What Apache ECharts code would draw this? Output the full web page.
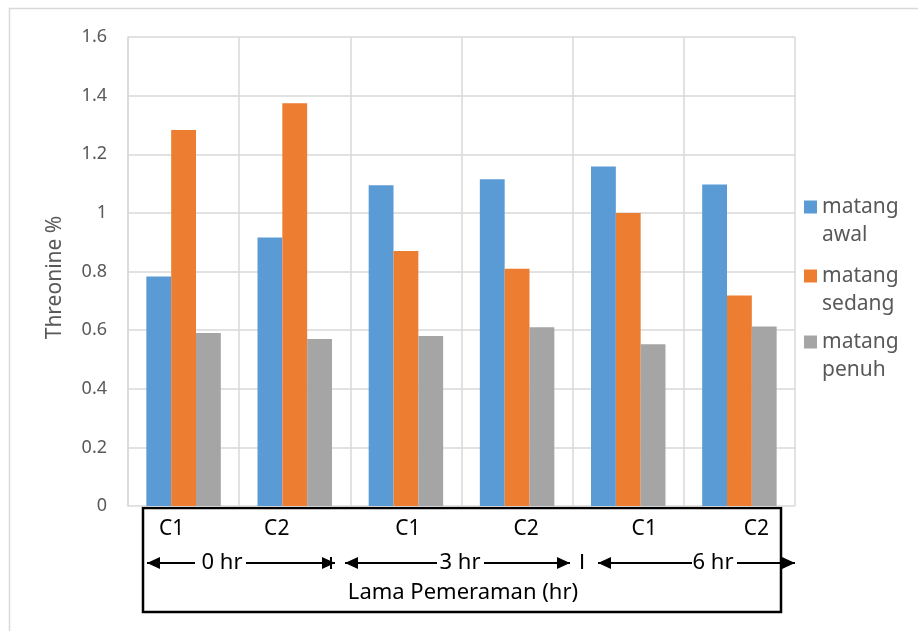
<!DOCTYPE html>
<html>
<head>
<meta charset="utf-8">
<script src="https://cdn.jsdelivr.net/npm/echarts@6/dist/echarts.min.js"></script>
<style>
html,body{margin:0;padding:0;background:#fff;}
#c{width:918px;height:631px;}
</style>
</head>
<body>
<div id="c"></div>
<script>
const categories = ['C1','C2','C1','C2','C1','C2'];
const seriesNames = ['matang awal','matang sedang','matang penuh'];
const matangAwal = [0.783, 0.916, 1.094, 1.115, 1.158, 1.097];
const matangSedang = [1.283, 1.374, 0.870, 0.809, 1.000, 0.718];
const matangPenuh = [0.590, 0.570, 0.580, 0.610, 0.552, 0.612];
const yTicks = {min:0, max:1.6, interval:0.2};
const groupLabels = ['0 hr','3 hr','6 hr'];
const xTitle = 'Lama Pemeraman (hr)';
const yTitle = 'Threonine %';

const colors = ['#5b9bd5','#ed7d31','#a5a5a5'];
const FONT = 'Noto Sans';
const labelShift = [-12,-18,2,9,16,17];

const chart = echarts.init(document.getElementById('c'), null, {renderer:'canvas'});

const rich = {};
labelShift.forEach((d,i)=>{
  rich['s'+i] = {fontFamily:FONT, fontSize:21, color:'#000',
    padding: d>=0 ? [0,0,0,2*d] : [0,-2*d,0,0]};
});

function arrowHead(tipX, y, dir){
  const L=13, H=6;
  return {type:'polygon', shape:{points:[[tipX,y],[tipX-dir*L,y-H],[tipX-dir*L,y+H]]}, style:{fill:'#000'}};
}
function hline(x1,x2,y){
  return {type:'line', shape:{x1:x1,y1:y,x2:x2,y2:y}, style:{stroke:'#000', lineWidth:2}};
}
const AY = 563;
const TF = '22px "Noto Sans"';
const graphics = [
  {type:'line', shape:{x1:9.5,y1:8,x2:9.5,y2:631}, style:{stroke:'#d9d9d9', lineWidth:1.5}},
  {type:'line', shape:{x1:9,y1:8.5,x2:918,y2:8.5}, style:{stroke:'#d9d9d9', lineWidth:1.5}},
  {type:'rect', shape:{x:143,y:508,width:638,height:104}, style:{fill:'none', stroke:'#000', lineWidth:2.5}},
  hline(147,195,AY), arrowHead(147,AY,-1),
  hline(246,335,AY), arrowHead(335,AY,1),
  {type:'line', shape:{x1:331,y1:AY-6,x2:331,y2:AY+6}, style:{stroke:'#000', lineWidth:2}},
  hline(345,437,AY), arrowHead(345,AY,-1),
  hline(484,570,AY), arrowHead(570,AY,1),
  hline(598,692,AY), arrowHead(598,AY,-1),
  hline(737,795,AY), arrowHead(795,AY,1),
  {type:'text', x:222, y:AY, style:{text:groupLabels[0], font:TF, fill:'#000', textAlign:'center', textVerticalAlign:'middle'}},
  {type:'text', x:460, y:AY, style:{text:groupLabels[1], font:TF, fill:'#000', textAlign:'center', textVerticalAlign:'middle'}},
  {type:'text', x:713, y:AY, style:{text:groupLabels[2], font:TF, fill:'#000', textAlign:'center', textVerticalAlign:'middle'}},
  {type:'text', x:582, y:AY, style:{text:'I', font:'22px "Liberation Sans"', fill:'#000', textAlign:'center', textVerticalAlign:'middle'}},
  {type:'text', x:463, y:593, style:{text:xTitle, font:TF, fill:'#000', textAlign:'center', textVerticalAlign:'middle'}}
];

const iconCenters = [207, 276, 342];
const LH = 28;
const legends = seriesNames.map((n,i)=>({
  data:[n], left:804, top:iconCenters[i] - 1.5*LH, orient:'vertical', padding:0,
  icon:'rect', itemWidth:13, itemHeight:13, itemGap:0,
  formatter: name => ' \n' + name.replace(' ', '\n'),
  textStyle:{fontFamily:FONT, fontSize:21, color:'#595959', lineHeight:LH}
}));

const option = {
  animation:false,
  backgroundColor:'#fff',
  color: colors,
  grid:{left:128, right:123, top:37, bottom:125, containLabel:false},
  legend: legends,
  xAxis:{
    type:'category', data:categories,
    axisLine:{show:false}, axisTick:{show:false},
    splitLine:{show:true, lineStyle:{color:'#d9d9d9', width:1.5}},
    axisLabel:{margin:13, fontFamily:FONT, fontSize:21, color:'#000',
      formatter:(v,i)=>'{s'+i+'|'+v+'}', rich:rich}
  },
  yAxis:{
    type:'value', min:yTicks.min, max:yTicks.max, interval:yTicks.interval,
    name:yTitle, nameLocation:'middle', nameGap:62,
    nameTextStyle:{fontFamily:FONT, fontSize:21, color:'#595959', padding:[0,12,0,0]},
    axisLine:{show:true, lineStyle:{color:'#d9d9d9', width:1.5}}, axisTick:{show:false},
    splitLine:{show:true, lineStyle:{color:'#d9d9d9', width:1.5}},
    axisLabel:{margin:21, fontFamily:FONT, fontSize:18, color:'#595959'}
  },
  series:[
    {name:seriesNames[0], type:'bar', data:matangAwal, barGap:'0%', barCategoryGap:'33%'},
    {name:seriesNames[1], type:'bar', data:matangSedang, barGap:'0%', barCategoryGap:'33%'},
    {name:seriesNames[2], type:'bar', data:matangPenuh, barGap:'0%', barCategoryGap:'33%'}
  ],
  graphic: graphics
};
chart.setOption(option);
</script>
</body>
</html>
